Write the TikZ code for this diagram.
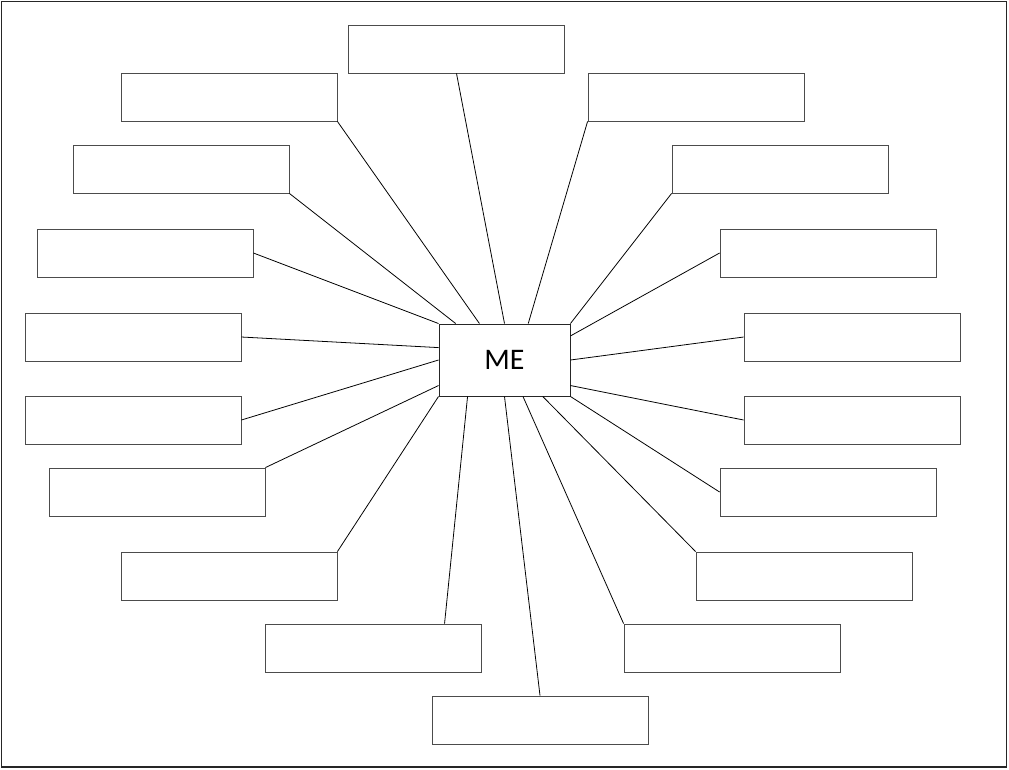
\documentclass[tikz,border=0pt]{standalone}
\usepackage{fontspec}
\setmainfont{Carlito}
\usetikzlibrary{calc}

\begin{document}
\begin{tikzpicture}[x=0.02cm, y=-0.02cm,
    leaf/.style={draw=black!70, line width=0.5pt, minimum width=4.32cm, minimum height=0.96cm, inner sep=0pt},
    hub/.style={draw=black!85, line width=0.55pt, minimum width=2.62cm, minimum height=1.44cm, inner sep=0pt, font=\fontsize{17}{20}\selectfont},
    spoke/.style={line width=0.45pt, black}]
    \useasboundingbox (0,0) rectangle (1009,769);
    % Rahmen
    \draw[line width=1.1pt, black!85] (1.5,1.5) rectangle (1006.5,767);

    % Mitte
    \node[hub] (me) at (504.5,360) {ME};

    % Kaesten
    \foreach \n/\x/\y in {top/456.5/49, bot/540/720,
        l1/229/97, l2/181/169, l3/145/253, l4/133/337,
        l5/133/420, l6/157/492, l7/229/576, l8/373/648,
        r1/696/97, r2/780/169, r3/828/253, r4/852/337,
        r5/852/420, r6/828/492, r7/804/576, r8/732/648} {
        \node[leaf] (\n) at (\x,\y) {};
    }

    % Andockpunkte an der Mitte
    \coordinate (mt1) at ($(me.north west)!0.13!(me.north east)$);
    \coordinate (mt2) at ($(me.north west)!0.31!(me.north east)$);
    \coordinate (mt4) at ($(me.north west)!0.68!(me.north east)$);
    \coordinate (mb1) at ($(me.south west)!0.22!(me.south east)$);
    \coordinate (mb3) at ($(me.south west)!0.64!(me.south east)$);
    \coordinate (mb4) at ($(me.south west)!0.79!(me.south east)$);
    \coordinate (ml1) at ($(me.north west)!0.33!(me.south west)$);
    \coordinate (ml3) at ($(me.north west)!0.85!(me.south west)$);
    \coordinate (mr1) at ($(me.north east)!0.17!(me.south east)$);
    \coordinate (mr3) at ($(me.north east)!0.85!(me.south east)$);
    \coordinate (l8a) at ($(l8.north west)!0.83!(l8.north east)$);

    % Verbindungen
    \foreach \a/\b in {top.south/me.north, bot.north/me.south,
        l1.south east/mt2, l2.south east/mt1, l3.east/me.north west,
        l4.east/ml1, l5.east/me.west, l6.north east/ml3,
        l7.north east/me.south west, l8a/mb1,
        r1.south west/mt4, r2.south west/me.north east, r3.west/mr1,
        r4.west/me.east, r5.west/mr3, r6.west/me.south east,
        r7.north west/mb4, r8.north west/mb3} {
        \draw[spoke] (\a) -- (\b);
    }
\end{tikzpicture}
\end{document}
